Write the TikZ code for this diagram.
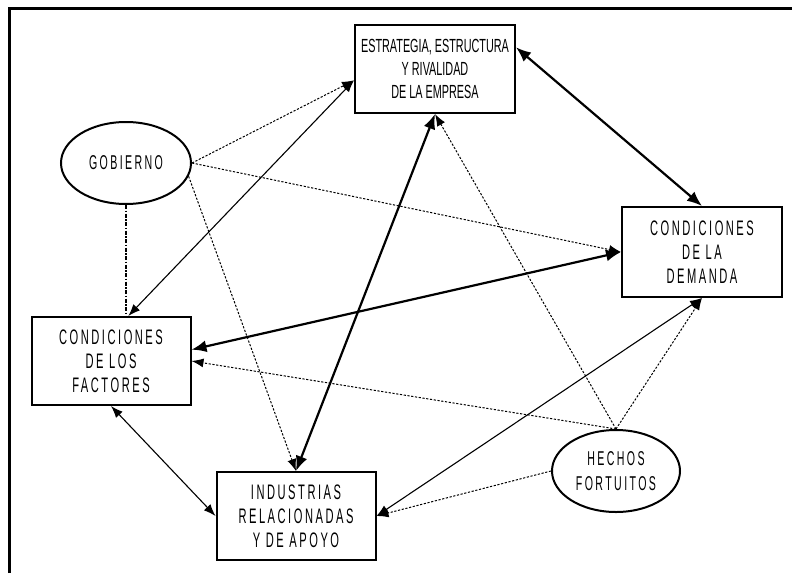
\documentclass[tikz,border=0pt]{standalone}
\usepackage{fontspec}
\usepackage{tikz}
\usetikzlibrary{arrows.meta}
\usetikzlibrary{shapes.geometric}

\newfontfamily\spfont[FakeStretch=0.53,LetterSpace=12]{Liberation Sans}
\newfontfamily\narrowfont[FakeStretch=0.57]{Liberation Sans}

\tikzset{
  caja/.style={draw,line width=2pt,minimum width=159pt,minimum height=88pt,
    inner sep=0pt,align=center,font=\spfont\fontsize{21}{24}\selectfont},
  elipse/.style={draw,ellipse,line width=2pt,minimum width=130pt,minimum height=82pt,
    inner sep=0pt,align=center,font=\spfont\fontsize{20}{25}\selectfont},
  fuerte/.style={line width=2.2pt,{Latex[length=15pt,width=12pt]}-{Latex[length=15pt,width=12pt]}},
  fino/.style={line width=1.1pt,{Latex[length=12pt,width=9pt]}-{Latex[length=12pt,width=9pt]}},
  punteado/.style={line width=1pt,dash pattern=on 2.2pt off 1.6pt,-{Latex[length=12pt,width=9pt]}},
}

\begin{document}
\begin{tikzpicture}[x=1pt,y=-1pt]
    \useasboundingbox (0,0) rectangle (792,573);
    % marco
    \draw[line width=3pt] (9,573) -- (9,8) -- (792,8);

    % cajas
    \node[caja,minimum width=160pt,font=\narrowfont\fontsize{19}{23}\selectfont] (estr) at (435,69)
        {ESTRATEGIA, ESTRUCTURA\\Y RIVALIDAD\\DE LA EMPRESA};
    \node[caja,minimum width=160pt,minimum height=90pt] (dem) at (702,252) {CONDICIONES\\DE LA\\DEMANDA};
    \node[caja] (fac) at (111,361) {CONDICIONES\\DE LOS\\FACTORES};
    \node[caja] (ind) at (296,516) {INDUSTRIAS\\RELACIONADAS\\Y DE APOYO};
    \node[elipse] (gob) at (126,163) {GOBIERNO};
    \node[elipse,minimum width=128pt] (hech) at (616,471) {HECHOS\\FORTUITOS};

    % gobierno
    \draw[punteado] (gob.east) -- (estr.188);
    \draw[punteado] (gob.east) -- (dem.west);
    \draw[punteado] (gob.-12) -- (ind.north);
    \draw[line width=1.5pt,dash pattern=on 4pt off 1.5pt on 1.5pt off 1.5pt] (gob.south) -- (gob.south |- fac.north);

    % hechos fortuitos
    \draw[punteado] (hech.north) -- (estr.south);
    \draw[punteado] (hech.north) -- (dem.south);
    \draw[punteado] (hech.north) -- (fac.east);
    \draw[punteado] (hech.west) -- (ind.east);

    % relaciones del diamante
    \draw[fuerte] (estr.15) -- (dem.north);
    \draw[fuerte] (estr.south) -- (ind.north);
    \draw[fuerte] (dem.west) -- (fac.8);
    \draw[fino] (estr.188) -- (fac.69);
    \draw[fino] (dem.south) -- (ind.east);
    \draw[fino] (fac.south) -- (ind.west);
\end{tikzpicture}
\end{document}
